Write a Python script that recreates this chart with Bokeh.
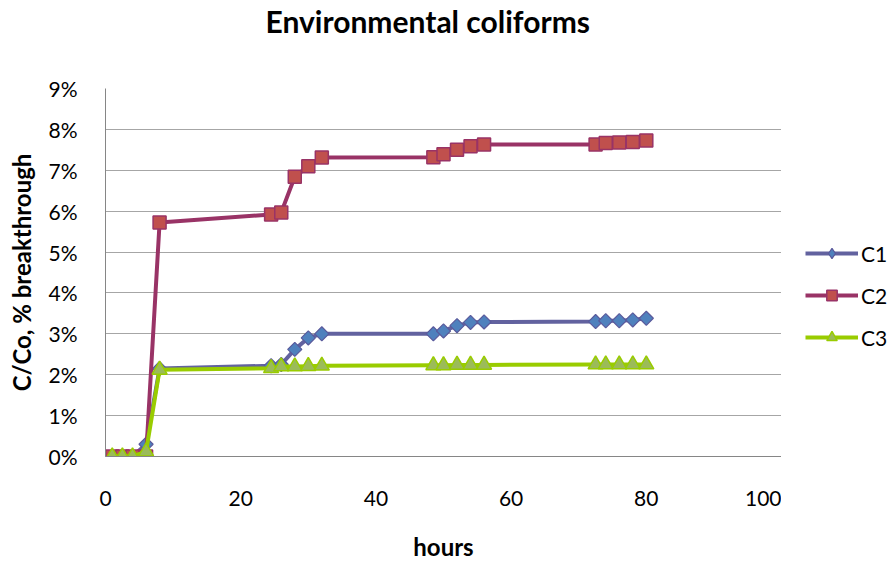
import math
from bokeh.plotting import figure
from bokeh.layouts import row
from bokeh.models import Range1d, Legend, LegendItem, PrintfTickFormatter, FixedTicker, Title
from bokeh.embed import file_html
from bokeh.resources import INLINE

# ---- data (percent breakthrough) ----
hours = [1, 2.5, 4, 6, 8, 24.5, 26, 28, 30, 32, 48.5, 50, 52, 54, 56, 72.5, 74, 76, 78, 80]
c1 = [0, 0, 0, 0.3, 2.15, 2.22, 2.25, 2.62, 2.9, 3.0, 3.0, 3.07, 3.2, 3.28, 3.29, 3.3, 3.32, 3.32, 3.34, 3.38]
c2 = [0, 0, 0, 0, 5.72, 5.92, 5.97, 6.84, 7.10, 7.31, 7.32, 7.39, 7.50, 7.59, 7.63, 7.63, 7.67, 7.68, 7.69, 7.73]
c3 = [0, 0, 0, 0.12, 2.12, 2.16, 2.2, 2.2, 2.21, 2.22, 2.23, 2.23, 2.24, 2.24, 2.24, 2.25, 2.25, 2.25, 2.25, 2.25]
series_names = ["C1", "C2", "C3"]
x_ticks = [0, 20, 40, 60, 80, 100]
y_ticks = [0, 1, 2, 3, 4, 5, 6, 7, 8, 9]

FONT = "Lato"
COL1, FILL1, EDGE1 = "#62629f", "#4f81bd", "#5a5a9c"
COL2, FILL2, EDGE2 = "#993366", "#c0504d", "#993366"
COL3, FILL3, EDGE3 = "#99cc00", "#9bbb59", "#99cc00"

p = figure(width=781, height=563, output_backend="svg", toolbar_location=None,
           x_range=Range1d(0, 100), y_range=Range1d(0, 9),
           min_border_left=105, min_border_right=0, min_border_top=88, min_border_bottom=106)
p.outline_line_color = None
p.background_fill_color = "white"
p.border_fill_color = "white"

p.title.text = "Environmental coliforms"
p.title.align = "left"
p.title.offset = 160
p.title.text_font = FONT
p.title.text_font_size = "30px"
p.title.text_font_style = "bold"
p.title.text_color = "black"
p.title.vertical_align = "top"
p.title.standoff = 0
# spacer panel between the title and the plot area
p.add_layout(Title(text=" ", text_font_size="30px", standoff=13), "above")

p.xgrid.grid_line_color = None
p.ygrid.grid_line_color = "#a6a6a6"
p.ygrid.grid_line_width = 1
p.ygrid.ticker = FixedTicker(ticks=y_ticks)

for ax in (p.xaxis[0], p.yaxis[0]):
    ax.axis_line_color = "#868686"
    ax.axis_line_width = 1
    ax.major_tick_line_color = None
    ax.minor_tick_line_color = None
    ax.major_label_text_font = FONT
    ax.major_label_text_font_size = "21px"
    ax.major_label_text_color = "black"
    ax.axis_label_text_font = FONT
    ax.axis_label_text_font_size = "24px"
    ax.axis_label_text_font_style = "bold"
    ax.axis_label_text_color = "black"

p.xaxis.ticker = FixedTicker(ticks=x_ticks)
p.yaxis.ticker = FixedTicker(ticks=y_ticks)
p.yaxis.formatter = PrintfTickFormatter(format="%d%%")
p.xaxis.axis_label = "hours"
p.yaxis.axis_label = "C/Co, % breakthrough"
p.xaxis.major_label_standoff = 28
p.xaxis.axis_label_standoff = 23
p.yaxis.major_label_standoff = 22
p.yaxis.axis_label_standoff = 9

# series
p.line(hours, c1, line_color=COL1, line_width=4)
p.scatter(hours, c1, marker="square", size=10, angle=math.pi / 4,
          fill_color=FILL1, line_color=EDGE1, line_width=1.2)
p.line(hours, c2, line_color=COL2, line_width=4)
p.scatter(hours, c2, marker="square", size=13,
          fill_color=FILL2, line_color=EDGE2, line_width=1.5)
p.line(hours, c3, line_color=COL3, line_width=4)
p.scatter(hours, c3, marker="triangle", size=15,
          fill_color=FILL3, line_color=EDGE3, line_width=1.5)

# legend panel (separate narrow figure; its data lies outside its view so only the legend shows)
lg = figure(width=108, height=563, output_backend="svg", toolbar_location=None,
            x_range=Range1d(1000, 1001), y_range=Range1d(1000, 1001),
            x_axis_location=None, y_axis_location=None,
            min_border_left=0, min_border_right=0, min_border_top=0, min_border_bottom=0)
lg.outline_line_color = None
lg.grid.grid_line_color = None
lg.background_fill_color = "white"
lg.border_fill_color = "white"

k1 = [lg.line(hours, c1, line_color=COL1, line_width=4),
      lg.scatter(hours, c1, marker="diamond", size=17, fill_color=FILL1, line_color=EDGE1, line_width=1.2)]
k2 = [lg.line(hours, c2, line_color=COL2, line_width=4),
      lg.scatter(hours, c2, marker="square", size=13, fill_color=FILL2, line_color=EDGE2, line_width=1.5)]
k3 = [lg.line(hours, c3, line_color=COL3, line_width=4),
      lg.scatter(hours, c3, marker="triangle", size=15, fill_color=FILL3, line_color=EDGE3, line_width=1.5)]

legend = Legend(items=[LegendItem(label=series_names[0], renderers=k1),
                       LegendItem(label=series_names[1], renderers=k2),
                       LegendItem(label=series_names[2], renderers=k3)],
                location=(24, 106), padding=0, margin=0, spacing=16,
                glyph_width=53, glyph_height=26, label_height=26, label_standoff=3,
                label_text_font=FONT, label_text_font_size="21px",
                label_text_color="black", border_line_color=None,
                background_fill_alpha=0)
lg.add_layout(legend)

layout = row(p, lg)
open("out.html", "w").write(file_html(layout, INLINE))
